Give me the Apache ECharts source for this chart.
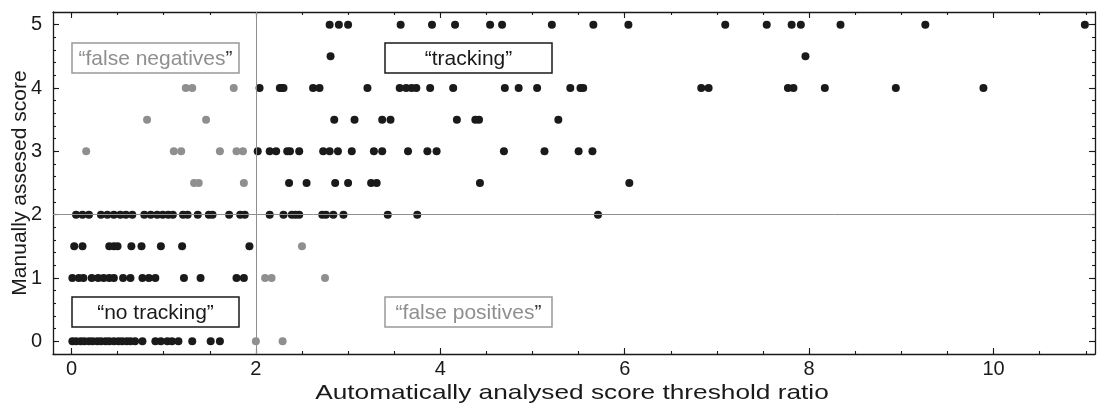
<!DOCTYPE html>
<html>
<head>
<meta charset="utf-8">
<script src="https://cdn.jsdelivr.net/npm/echarts@6/dist/echarts.min.js"></script>
<style>
  html, body { margin: 0; padding: 0; background: #ffffff; }
  #chart { width: 1097px; height: 403px; }
</style>
</head>
<body>
<div id="chart"></div>
<script>
// Manually assessed score versus the automatically analysed threshold ratio.
// One array of threshold ratios per manual score level.
const ratiosScore0   = [0.01, 0.05, 0.10, 0.14, 0.19, 0.23, 0.28, 0.32, 0.37, 0.41, 0.46, 0.51, 0.55, 0.60, 0.64, 0.69, 0.77, 0.91, 0.97, 1.04, 1.09, 1.16, 1.31, 1.51, 1.61, 2.00, 2.29];
const ratiosScore1   = [0.01, 0.08, 0.13, 0.22, 0.29, 0.35, 0.41, 0.46, 0.56, 0.64, 0.77, 0.84, 0.91, 1.22, 1.40, 1.79, 1.87, 2.10, 2.17, 2.75];
const ratiosScore1_5 = [0.03, 0.12, 0.41, 0.46, 0.50, 0.65, 0.76, 0.97, 1.20, 1.93, 2.50];
const ratiosScore2   = [0.05, 0.12, 0.19, 0.32, 0.39, 0.46, 0.53, 0.59, 0.66, 0.79, 0.86, 0.93, 0.99, 1.05, 1.10, 1.21, 1.26, 1.37, 1.49, 1.53, 1.71, 1.83, 1.88, 2.15, 2.30, 2.39, 2.43, 2.47, 2.72, 2.76, 2.84, 2.95, 3.43, 3.75, 5.71];
const ratiosScore2_5 = [1.33, 1.38, 1.87, 2.36, 2.55, 2.86, 3.00, 3.25, 3.31, 4.43, 6.05];
const ratiosScore3   = [0.16, 1.11, 1.19, 1.61, 1.79, 1.86, 2.02, 2.15, 2.22, 2.34, 2.37, 2.47, 2.73, 2.80, 2.89, 3.04, 3.28, 3.37, 3.65, 3.86, 3.96, 4.69, 5.13, 5.50, 5.65];
const ratiosScore3_5 = [0.82, 1.46, 2.85, 3.07, 3.37, 3.46, 4.18, 4.38, 4.42, 5.28];
const ratiosScore4   = [1.24, 1.31, 1.76, 2.04, 2.26, 2.28, 2.30, 2.62, 2.69, 3.21, 3.56, 3.63, 3.69, 3.74, 3.89, 4.14, 4.70, 4.85, 5.05, 5.41, 5.52, 5.55, 6.83, 6.91, 7.77, 7.83, 8.17, 8.94, 9.89];
const ratiosScore4_5 = [2.81, 7.96];
const ratiosScore5   = [2.80, 2.90, 3.00, 3.57, 3.91, 4.16, 4.54, 4.67, 5.21, 5.66, 6.04, 7.09, 7.54, 7.81, 7.91, 8.34, 9.26, 10.99];

const scoreRows = [
  [0, ratiosScore0], [1, ratiosScore1], [1.5, ratiosScore1_5], [2, ratiosScore2],
  [2.5, ratiosScore2_5], [3, ratiosScore3], [3.5, ratiosScore3_5], [4, ratiosScore4],
  [4.5, ratiosScore4_5], [5, ratiosScore5]
];

// Decision thresholds splitting the plane into four quadrants
const ratioThreshold = 2;
const scoreThreshold = 2;

// Axis ticks and labels
const xLabelTicks = [0, 2, 4, 6, 8, 10];
const yLabelTicks = [0, 1, 2, 3, 4, 5];
const xRange = [-0.2, 11.1];
const yRange = [-0.2, 5.2];

const xMinorTicks = [];
for (let i = 0; i <= 22; i++) xMinorTicks.push(i * 0.5);
const yMinorTicks = [];
for (let i = -1; i <= 26; i++) yMinorTicks.push(Math.round(i * 2) / 10);

// Points where both methods agree are dark; disagreements are grey.
const agreePoints = [];
const disagreePoints = [];
scoreRows.forEach(([score, ratios]) => {
  ratios.forEach(r => {
    const disagree = (r >= ratioThreshold && score < scoreThreshold) ||
                     (r < ratioThreshold && score > scoreThreshold);
    (disagree ? disagreePoints : agreePoints).push([r, score]);
  });
});

const FONT = '"Liberation Sans", Arial, Helvetica, sans-serif';
const INK = '#1a1a1a';
const GREY = '#8f8f8f';

function xAxisDef(position, ticks, len, withLine, withLabels) {
  return {
    type: 'value', position, min: xRange[0], max: xRange[1],
    axisLine: { show: withLine, onZero: false, lineStyle: { color: INK, width: 1.3 } },
    axisTick: { show: true, inside: true, length: len, customValues: ticks, lineStyle: { color: INK, width: 1.1 } },
    axisLabel: withLabels
      ? { show: true, customValues: xLabelTicks, fontSize: 20, color: INK, fontFamily: FONT, margin: 5 }
      : { show: false },
    splitLine: { show: false }
  };
}
function yAxisDef(position, ticks, len, withLine, withLabels) {
  return {
    type: 'value', position, min: yRange[0], max: yRange[1],
    axisLine: { show: withLine, onZero: false, lineStyle: { color: INK, width: 1.3 } },
    axisTick: { show: true, inside: true, length: len, customValues: ticks, lineStyle: { color: INK, width: 1.1 } },
    axisLabel: withLabels
      ? { show: true, customValues: yLabelTicks, fontSize: 20, color: INK, fontFamily: FONT, margin: 11 }
      : { show: false },
    splitLine: { show: false }
  };
}

const yMain = yAxisDef('left', yLabelTicks, 6, true, true);
Object.assign(yMain, {
  name: 'Manually assesed score',
  nameLocation: 'middle', nameGap: 22, nameMoveOverlap: false,
  nameTextStyle: { fontSize: 21, color: INK, fontFamily: FONT }
});

// Quadrant annotation boxes (pixel layout)
function labelBox(x, y, w, h, text, color, border, quoteColor) {
  return {
    type: 'group', z: 100,
    children: [
      { type: 'rect', shape: { x, y, width: w, height: h },
        style: { fill: '#ffffff', stroke: border, lineWidth: 1.5 } },
      { type: 'text', x: x + w / 2, y: y + h / 2 + 1,
        style: {
          text: text + '{q|”}',
          fill: color, font: '21px ' + FONT,
          align: 'center', verticalAlign: 'middle',
          rich: { q: { fill: quoteColor, font: '21px ' + FONT } }
        } }
    ]
  };
}

const chart = echarts.init(document.getElementById('chart'), null, { renderer: 'canvas' });
chart.setOption({
  animation: false,
  backgroundColor: '#ffffff',
  grid: { left: 53, right: 2, top: 12, bottom: 49, containLabel: false, outerBoundsMode: 'none' },
  xAxis: [
    xAxisDef('bottom', xLabelTicks, 6, true, true),
    xAxisDef('bottom', xMinorTicks, 3, false, false),
    xAxisDef('top', xLabelTicks, 6, true, false),
    xAxisDef('top', xMinorTicks, 3, false, false)
  ],
  yAxis: [
    yMain,
    yAxisDef('left', yMinorTicks, 3, false, false),
    yAxisDef('right', yLabelTicks, 6, true, false),
    yAxisDef('right', yMinorTicks, 3, false, false)
  ],
  series: [
    {
      type: 'scatter', data: [], xAxisIndex: 0, yAxisIndex: 0, z: 1, silent: true,
      markLine: {
        silent: true, symbol: ['none', 'none'], label: { show: false },
        lineStyle: { color: GREY, width: 1, type: 'solid' },
        emphasis: { disabled: true },
        data: [{ xAxis: ratioThreshold }, { yAxis: scoreThreshold }]
      }
    },
    {
      name: 'agree', type: 'scatter', data: agreePoints, xAxisIndex: 0, yAxisIndex: 0,
      symbol: 'circle', symbolSize: 8, z: 3, itemStyle: { color: INK, opacity: 1 }
    },
    {
      name: 'disagree', type: 'scatter', data: disagreePoints, xAxisIndex: 0, yAxisIndex: 0,
      symbol: 'circle', symbolSize: 8, z: 3, itemStyle: { color: GREY, opacity: 1 }
    }
  ],
  graphic: [
    labelBox(72, 43, 167, 30, '“false negatives', GREY, '#999999', '#333333'),
    labelBox(385, 43, 167, 30, '“tracking', INK, INK, INK),
    labelBox(72, 297, 167, 30, '“no tracking', INK, INK, INK),
    labelBox(385, 297, 167, 30, '“false positives', GREY, '#999999', '#333333'),
    // x-axis title, drawn a little wider than the regular face
    {
      type: 'text', x: 572, y: 393, scaleX: 1.25, z: 100,
      style: {
        text: 'Automatically analysed score threshold ratio',
        fill: INK, font: '21px ' + FONT, align: 'center', verticalAlign: 'middle'
      }
    }
  ]
});
</script>
</body>
</html>
